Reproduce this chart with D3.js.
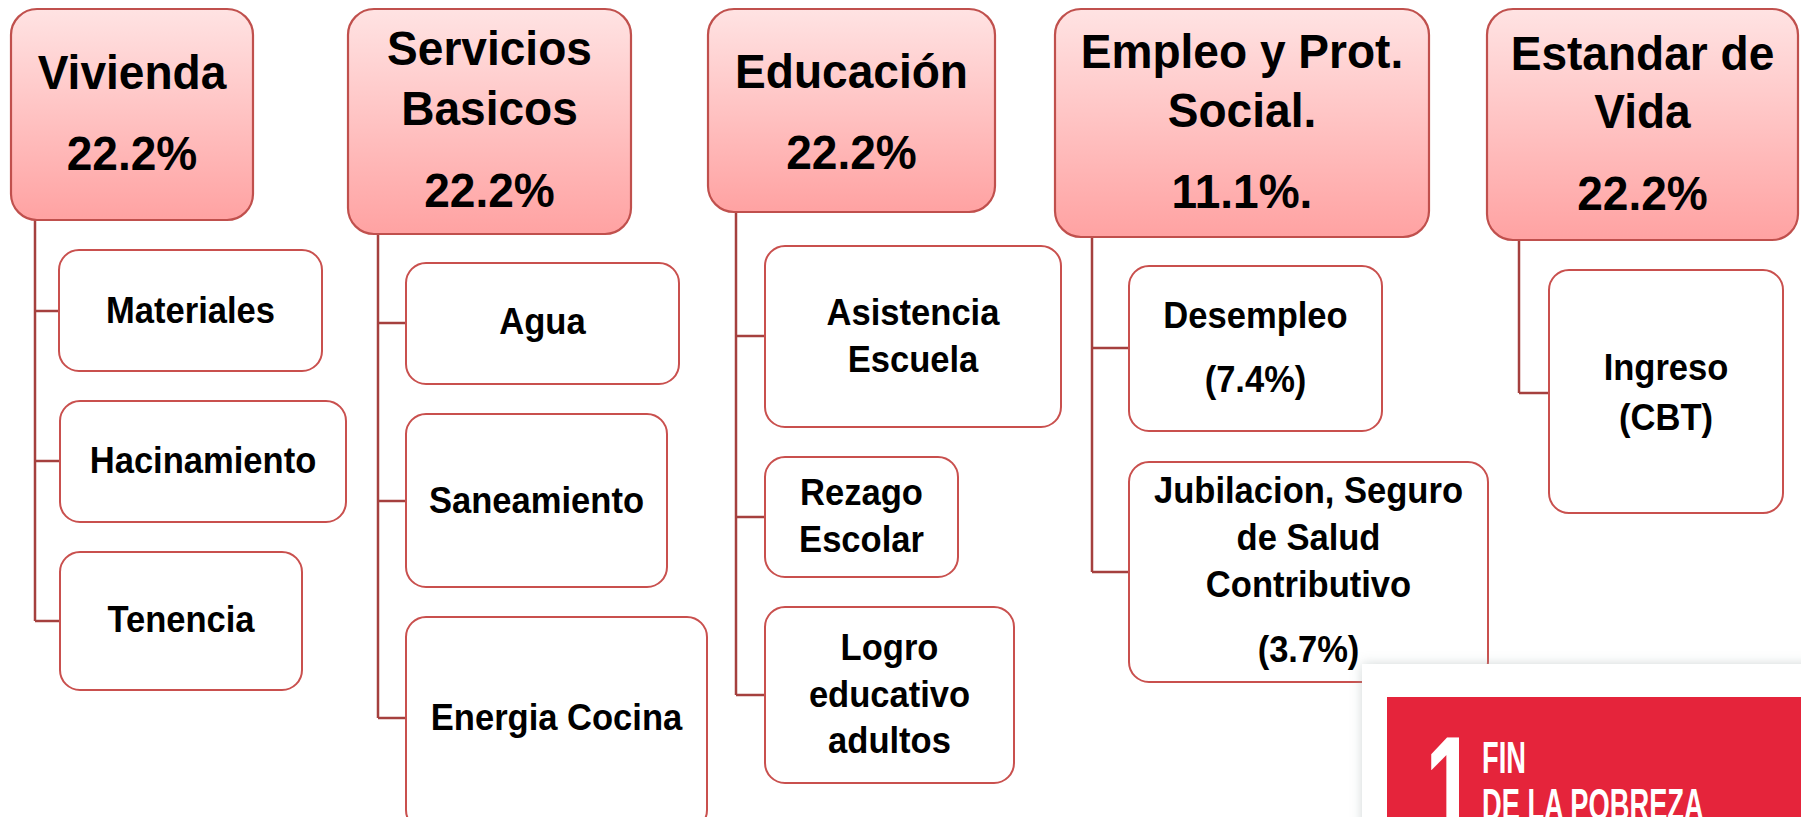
<!DOCTYPE html>
<html><head><meta charset="utf-8">
<script src="https://cdn.jsdelivr.net/npm/d3@7"></script>
<style>html,body{margin:0;padding:0;background:#fff;overflow:hidden}</style>
</head><body>
<svg id="c" width="1801" height="817"></svg>
<script>
// ---- content ----
const headerLines = [
  ["Vivienda", "22.2%"],
  ["Servicios", "Basicos", "22.2%"],
  ["Educación", "22.2%"],
  ["Empleo y Prot.", "Social.", "11.1%."],
  ["Estandar de", "Vida", "22.2%"]
];
const childLines = [
  [["Materiales"], ["Hacinamiento"], ["Tenencia"]],
  [["Agua"], ["Saneamiento"], ["Energia Cocina"]],
  [["Asistencia", "Escuela"], ["Rezago", "Escolar"], ["Logro", "educativo", "adultos"]],
  [["Desempleo", "(7.4%)"], ["Jubilacion, Seguro", "de Salud", "Contributivo", "(3.7%)"]],
  [["Ingreso", "(CBT)"]]
];
const logoNumber = "1";
const logoLines = ["FIN", "DE LA POBREZA"];

// ---- layout ----
const headerBoxes = [[11,9,253,220],[348,9,631,234],[708,9,995,212],[1055,9,1429,237],[1487,9,1798,240]];
const headerBase = [[89,170],[65,125,207],[88,169],[68,127,208],[70,128,210]];
const trunkX = [35,378,736,1092,1519];
const childBoxes = [
  [[59,250,322,371],[60,401,346,522],[60,552,302,690]],
  [[406,263,679,384],[406,414,667,587],[406,617,707,830]],
  [[765,246,1061,427],[765,457,958,577],[765,607,1014,783]],
  [[1129,266,1382,431],[1129,462,1488,682]],
  [[1549,270,1783,513]]
];
const childBase = [
  [[323],[473],[632]],
  [[334],[513],[730]],
  [[325,372],[505,552],[660,707,753]],
  [[328,392],[503,550,597,662]],
  [[380,430]]
];
const connY = [[311,461,621],[323,501,718],[336,517,695],[348,572],[393]];

const svg = d3.select("#c");
const defs = svg.append("defs");
const g = defs.append("linearGradient").attr("id","hg").attr("x1",0).attr("y1",0).attr("x2",0).attr("y2",1);
g.append("stop").attr("offset","0%").attr("stop-color","#FFE3E3");
g.append("stop").attr("offset","100%").attr("stop-color","#FFA2A2");
const f = defs.append("filter").attr("id","sh").attr("x","-20%").attr("y","-20%").attr("width","140%").attr("height","140%");
f.append("feDropShadow").attr("dx",0).attr("dy",0).attr("stdDeviation",6).attr("flood-color","#9aa").attr("flood-opacity",0.45);

const X = d3.scaleIdentity(), Y = d3.scaleIdentity();
const FONT = "'Liberation Sans', Arial, sans-serif";

function addText(sel, txt, cx, by, size, sx){
  sel.append("text")
    .attr("transform", `translate(${X(cx)},${Y(by)}) scale(${sx},1)`)
    .attr("text-anchor","middle")
    .attr("font-family", FONT).attr("font-weight","bold")
    .attr("font-size", size).attr("fill","#000").text(txt);
}

// connectors
const conn = svg.append("g").attr("stroke","#A5403E").attr("stroke-width",2.5).attr("fill","none");
headerLines.forEach((h,i)=>{
  const ys = connY[i];
  conn.append("line").attr("x1",X(trunkX[i])).attr("x2",X(trunkX[i]))
    .attr("y1",Y(headerBoxes[i][3])).attr("y2",Y(d3.max(ys)));
  ys.forEach((y,j)=>{
    conn.append("line").attr("x1",X(trunkX[i])).attr("x2",X(childBoxes[i][j][0]))
      .attr("y1",Y(y)).attr("y2",Y(y));
  });
});

// header boxes
const hg = svg.append("g");
hg.selectAll("rect").data(headerBoxes).join("rect")
  .attr("x",d=>X(d[0])).attr("y",d=>Y(d[1]))
  .attr("width",d=>d[2]-d[0]).attr("height",d=>d[3]-d[1])
  .attr("rx",26).attr("ry",26)
  .attr("fill","url(#hg)").attr("stroke","#C0504D").attr("stroke-width",2.2);
headerLines.forEach((lines,i)=>{
  const b = headerBoxes[i], cx=(b[0]+b[2])/2;
  lines.forEach((t,k)=>addText(hg, t, cx, headerBase[i][k], 49, 0.94));
});

// child boxes
const cg = svg.append("g");
childLines.forEach((kids,i)=>{
  kids.forEach((lines,j)=>{
    const b = childBoxes[i][j];
    cg.append("rect").attr("x",X(b[0])).attr("y",Y(b[1]))
      .attr("width",b[2]-b[0]).attr("height",b[3]-b[1])
      .attr("rx",20).attr("ry",20)
      .attr("fill","#fff").attr("stroke","#C9504E").attr("stroke-width",2);
    const cx=(b[0]+b[2])/2;
    lines.forEach((t,k)=>addText(cg, t, cx, childBase[i][j][k], 36, 0.96));
  });
});

// SDG logo
const lg = svg.append("g");
lg.append("rect").attr("x",1362).attr("y",664).attr("width",520).attr("height",220)
  .attr("fill","#fff").attr("filter","url(#sh)");
lg.append("rect").attr("x",1387).attr("y",697).attr("width",430).attr("height",140).attr("fill","#E5243B");
lg.append("text").attr("transform","translate(1425,840) scale(0.62,1)")
  .attr("font-family",FONT).attr("font-weight","bold").attr("font-size",148)
  .attr("fill","#fff").text(logoNumber);
lg.append("text").attr("transform","translate(1482,773) scale(0.62,1)")
  .attr("font-family",FONT).attr("font-weight","bold").attr("font-size",44)
  .attr("fill","#fff").text(logoLines[0]);
lg.append("text").attr("transform","translate(1482,820) scale(0.62,1)")
  .attr("font-family",FONT).attr("font-weight","bold").attr("font-size",44)
  .attr("fill","#fff").text(logoLines[1]);
</script>
</body></html>
